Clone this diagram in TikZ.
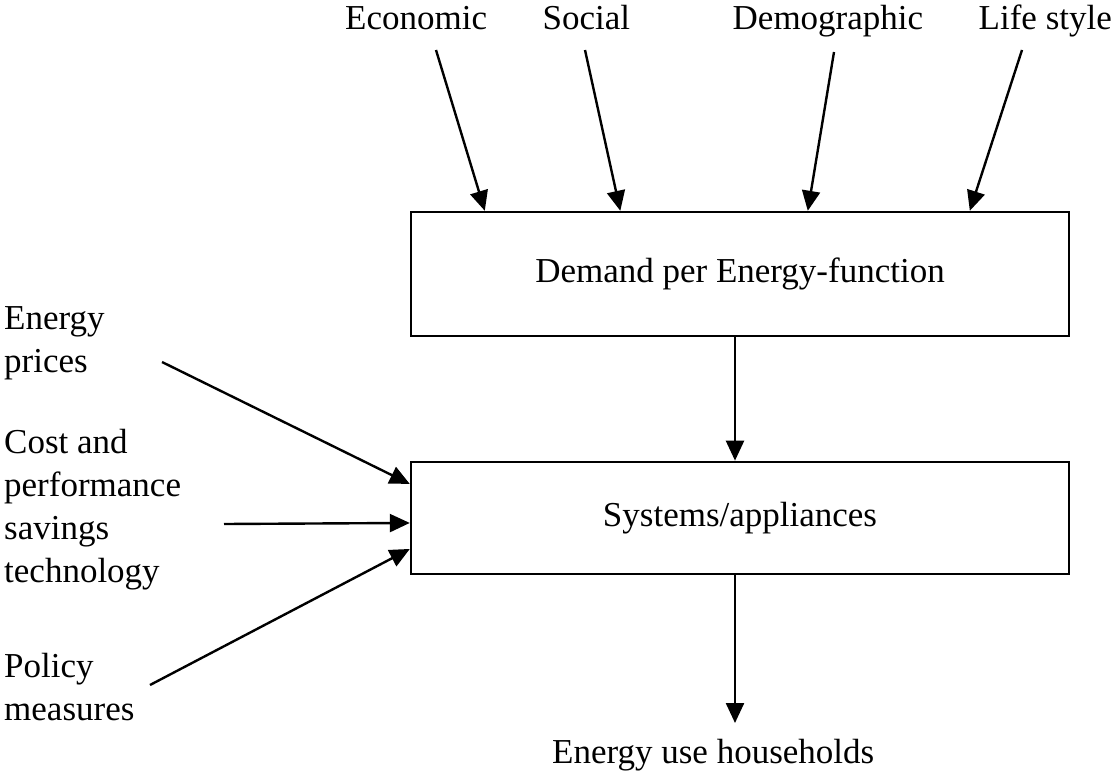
\documentclass[tikz,border=0pt]{standalone}
\usepackage{fontspec}
\setmainfont{Liberation Serif}
\usetikzlibrary{arrows.meta}
\begin{document}
\begin{tikzpicture}[x=1pt,y=-1pt,
  every node/.style={font=\fontsize{35}{43}\selectfont},
  box/.style={draw, line width=2.4pt, minimum width=658pt, inner sep=0pt},
  lbl/.style={anchor=base west, inner sep=0pt},
  arr/.style={line width=2.4pt, -{Triangle[length=20pt,width=18pt]}}]
\useasboundingbox (0,0) rectangle (1117,774);
% boxes
\node[box, minimum height=124pt] (b1) at (740,274) {Demand per Energy-function};
\node[box, minimum height=112.3pt] (b2) at (740,518) {Systems/appliances};
% top labels
\node[lbl] (econ) at (345,29) {Economic};
\node[lbl] (soc) at (542.5,29) {Social};
\node[lbl] (demo) at (732.5,29) {Demographic};
\node[lbl] (life) at (978.5,29) {Life style};
% left labels
\node[lbl] (price) at (4,329) {\begin{tabular}[t]{@{}l@{}}Energy\\prices\end{tabular}};
\node[lbl] (cost) at (4,453) {\begin{tabular}[t]{@{}l@{}}Cost and\\performance\\savings\\technology\end{tabular}};
\node[lbl] (pol) at (4,677) {\begin{tabular}[t]{@{}l@{}}Policy\\measures\end{tabular}};
% bottom label
\node[lbl] (use) at (552,763) {Energy use households};
% arrow start points
\coordinate (s1) at (436,50);
\coordinate (s2) at (585,50);
\coordinate (s3) at (834,52);
\coordinate (s4) at (1022,50);
\coordinate (p1) at (162,362);
\coordinate (p2) at (224,524);
\coordinate (p3) at (150,685);
\coordinate (e) at (735,723);
% top arrows
\draw[arr] (s1) -- ([xshift=75pt]b1.north west);
\draw[arr] (s2) -- ([xshift=210.5pt]b1.north west);
\draw[arr] (s3) -- ([xshift=398pt]b1.north west);
\draw[arr] (s4) -- ([xshift=560pt]b1.north west);
% left arrows
\draw[arr] (p1) -- ([yshift=-23.3pt]b2.north west);
\draw[arr] (p2) -- ([yshift=-62.3pt]b2.north west);
\draw[arr] (p3) -- ([yshift=-88.3pt]b2.north west);
% vertical arrows
\draw[arr] ([xshift=-5pt]b1.south) -- ([xshift=-5pt]b2.north);
\draw[arr] ([xshift=-5pt]b2.south) -- (e);
\end{tikzpicture}
\end{document}
